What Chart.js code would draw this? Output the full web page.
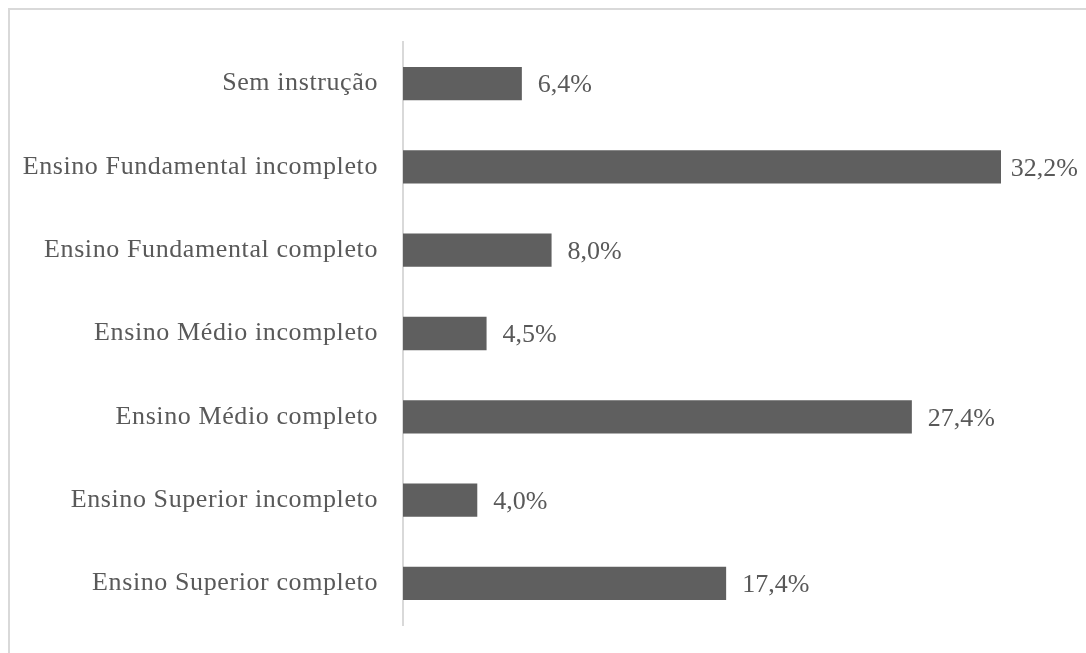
<!DOCTYPE html>
<html>
<head>
<meta charset="utf-8">
<script src="https://cdn.jsdelivr.net/npm/chart.js@4"></script>
<style>
html,body{margin:0;padding:0;background:#fff;}
#wrap{position:relative;width:1086px;height:653px;}
</style>
</head>
<body>
<div id="wrap"><canvas id="c" width="1086" height="653"></canvas></div>
<script>
const categories = [
  "Sem instrução",
  "Ensino Fundamental incompleto",
  "Ensino Fundamental completo",
  "Ensino Médio incompleto",
  "Ensino Médio completo",
  "Ensino Superior incompleto",
  "Ensino Superior completo"
];
const values = [6.4, 32.2, 8.0, 4.5, 27.4, 4.0, 17.4];
const valueLabels = ["6,4%", "32,2%", "8,0%", "4,5%", "27,4%", "4,0%", "17,4%"];

const FONT = "'Liberation Serif', 'Times New Roman', serif";
const TEXT = "#595959";

const framePlugin = {
  id: 'frame',
  beforeDraw(chart) {
    const ctx = chart.ctx;
    ctx.save();
    ctx.fillStyle = '#ffffff';
    ctx.fillRect(0, 0, chart.width, chart.height);
    ctx.strokeStyle = '#d9d9d9';
    ctx.lineWidth = 2;
    ctx.beginPath();
    ctx.moveTo(9, chart.height + 5);
    ctx.lineTo(9, 9);
    ctx.lineTo(chart.width + 5, 9);
    ctx.stroke();
    ctx.restore();
    ctx.letterSpacing = '0.6px';
  }
};

const valueLabelPlugin = {
  id: 'valueLabels',
  afterDatasetsDraw(chart) {
    const ctx = chart.ctx;
    const meta = chart.getDatasetMeta(0);
    ctx.save();
    ctx.letterSpacing = '0px';
    ctx.font = "26px " + FONT;
    ctx.fillStyle = TEXT;
    ctx.textAlign = 'left';
    ctx.textBaseline = 'middle';
    meta.data.forEach((bar, i) => {
      const w = ctx.measureText(valueLabels[i]).width;
      let x = bar.x + 16;
      if (x + w > chart.width - 8) x = chart.width - 8 - w;
      ctx.fillText(valueLabels[i], x, bar.y + 2);
    });
    ctx.restore();
  }
};

new Chart(document.getElementById('c'), {
  type: 'bar',
  data: {
    labels: categories,
    datasets: [{
      data: values,
      backgroundColor: '#5f5f5f',
      borderWidth: 0,
      categoryPercentage: 0.8,
      barPercentage: 0.5
    }]
  },
  options: {
    indexAxis: 'y',
    responsive: false,
    animation: false,
    devicePixelRatio: 1,
    layout: { padding: { left: 0, right: 33, top: 42, bottom: 28 } },
    plugins: { legend: { display: false }, tooltip: { enabled: false } },
    scales: {
      x: {
        display: false,
        min: 0,
        max: 35
      },
      y: {
        afterFit(scale) {
          scale.width = 403;
          scale.paddingTop = 0;
          scale.paddingBottom = 0;
        },
        grid: { display: false, drawTicks: false },
        border: { display: true, color: '#d9d9d9', width: 2 },
        ticks: {
          padding: 25,
          color: TEXT,
          font: { family: FONT, size: 26 }
        }
      }
    }
  },
  plugins: [framePlugin, valueLabelPlugin]
});
</script>
</body>
</html>
